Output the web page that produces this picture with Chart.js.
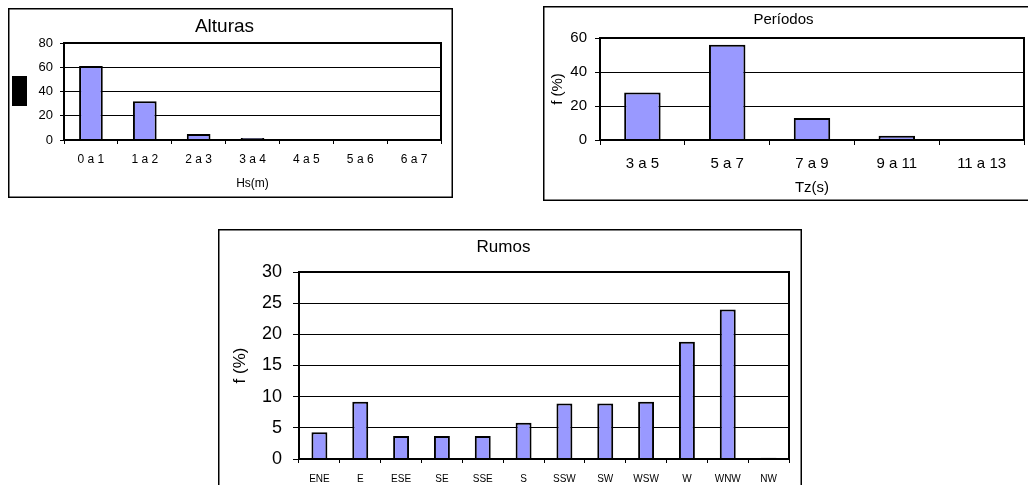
<!DOCTYPE html>
<html>
<head>
<meta charset="utf-8">
<script src="https://cdn.jsdelivr.net/npm/chart.js@4.4.1/dist/chart.umd.min.js"></script>
<style>
  html, body { margin: 0; padding: 0; background: #fff; overflow: hidden; width: 1028px; height: 485px; }
  canvas { position: absolute; }
</style>
</head>
<body>
<canvas id="alturas"></canvas>
<canvas id="periodos"></canvas>
<canvas id="rumos"></canvas>
<script>
// Wave height classes (m) and frequency (%)
const alturasLabels = ['0 a 1', '1 a 2', '2 a 3', '3 a 4', '4 a 5', '5 a 6', '6 a 7'];
const alturasValues = [61, 32, 5, 1.6, 0, 0, 0];

// Zero-crossing period classes (s) and frequency (%)
const periodosLabels = ['3 a 5', '5 a 7', '7 a 9', '9 a 11', '11 a 13'];
const periodosValues = [28, 56, 13, 2.5, 0];

// Wave direction sectors and frequency (%)
const rumosLabels = ['ENE', 'E', 'ESE', 'SE', 'SSE', 'S', 'SSW', 'SW', 'WSW', 'W', 'WNW', 'NW'];
const rumosValues = [4.3, 9.2, 3.7, 3.7, 3.7, 5.8, 8.9, 8.9, 9.2, 18.8, 24.0, 0.2];

const FONT = "'Liberation Sans', Arial, Helvetica, sans-serif";

function panel(id, geo, labels, values, o) {
  const cv = document.getElementById(id);
  cv.width = geo.w; cv.height = geo.h;
  cv.style.left = geo.x + 'px'; cv.style.top = geo.y + 'px';
  cv.style.width = geo.w + 'px'; cv.style.height = geo.h + 'px';

  const plotL = geo.plot[0] - geo.x;
  const plotT = geo.plot[1] - geo.y;
  const plotR = geo.plot[2] - geo.x;
  const plotB = geo.plot[3] - geo.y;
  const titleTop = (o.titleY - geo.y) - o.titleSize * 0.6;

  const framePlugin = {
    id: 'frame-' + id,
    beforeDraw(chart) {
      const ctx = chart.ctx;
      ctx.save();
      ctx.fillStyle = '#fff';
      ctx.fillRect(0, 0, geo.w, geo.h);
      ctx.strokeStyle = '#000';
      ctx.lineWidth = 1.5;
      ctx.strokeRect(0.75, 0.75, geo.w - 1.5, geo.h - 1.5);
      if (o.blockY) {
        ctx.fillStyle = '#000';
        ctx.fillRect(o.blockY[0], o.blockY[1], o.blockY[2], o.blockY[3]);
      }
      ctx.restore();
    },
    afterDraw(chart) {
      const a = chart.chartArea;
      const ctx = chart.ctx;
      ctx.save();
      ctx.strokeStyle = '#000';
      ctx.lineWidth = 2;
      ctx.strokeRect(a.left, a.top, a.right - a.left, a.bottom - a.top);
      ctx.restore();
    }
  };

  return new Chart(cv, {
    type: 'bar',
    data: {
      labels: labels,
      datasets: [{
        data: values,
        backgroundColor: '#9999ff',
        borderColor: '#000',
        borderWidth: 2,
        barPercentage: o.bar,
        categoryPercentage: 1
      }]
    },
    options: {
      responsive: false,
      animation: false,
      devicePixelRatio: 1,
      layout: { padding: { left: 0, top: 0, right: geo.w - plotR, bottom: 0 } },
      plugins: {
        legend: { display: false },
        tooltip: { enabled: false },
        title: {
          display: true,
          text: o.title,
          color: '#000',
          font: { family: FONT, size: o.titleSize, weight: 'normal', lineHeight: 1.2 },
          padding: { top: titleTop, bottom: plotT - titleTop - o.titleSize * 1.2 }
        }
      },
      scales: {
        x: {
          grid: { offset: true, drawOnChartArea: false, drawTicks: true, tickLength: o.xTickLen, color: '#000', lineWidth: 1 },
          border: { display: false },
          ticks: { color: '#000', font: { family: FONT, size: o.xFont }, padding: o.xPad, maxRotation: 0, autoSkip: false },
          title: {
            display: o.xTitle !== '', text: o.xTitle, color: '#000',
            font: { family: FONT, size: o.xTitleSize },
            padding: { top: 0, bottom: o.xTitlePad }
          },
          afterFit(s) { s.height = geo.h - plotB; }
        },
        y: {
          min: 0, max: o.yMax,
          ticks: { stepSize: o.yStep, color: '#000', font: { family: FONT, size: o.yFont }, padding: o.yPad },
          grid: { color: '#000', lineWidth: 1, drawTicks: true, tickLength: o.yTickLen },
          border: { display: false },
          title: {
            display: true, text: 'f (%)', color: '#000',
            font: { family: FONT, size: o.yTitleSize },
            padding: { top: o.yTitlePad, bottom: 0 }
          },
          afterFit(s) { s.width = plotL; }
        }
      }
    },
    plugins: [framePlugin]
  });
}

panel('alturas',
  { x: 8, y: 8, w: 445, h: 190, plot: [64, 43, 441, 140] },
  alturasLabels, alturasValues,
  { title: 'Alturas', titleSize: 19, titleY: 27, bar: 0.44,
    xFont: 12, xPad: 8, xTickLen: 4, xTitle: 'Hs(m)', xTitleSize: 12, xTitlePad: 7,
    yMax: 80, yStep: 20, yFont: 13, yPad: 7, yTickLen: 4,
    yTitleSize: 12, yTitlePad: 5, blockY: [4, 68, 15, 30] });

panel('periodos',
  { x: 543, y: 6, w: 500, h: 195, plot: [600, 38, 1024, 140] },
  periodosLabels, periodosValues,
  { title: 'Períodos', titleSize: 15, titleY: 20, bar: 0.43,
    xFont: 15, xPad: 10, xTickLen: 5, xTitle: 'Tz(s)', xTitleSize: 15, xTitlePad: 4,
    yMax: 60, yStep: 20, yFont: 15, yPad: 8, yTickLen: 5,
    yTitleSize: 15, yTitlePad: 6 });

panel('rumos',
  { x: 218, y: 229, w: 584, h: 271, plot: [299, 272, 789, 459] },
  rumosLabels, rumosValues,
  { title: 'Rumos', titleSize: 17, titleY: 247, bar: 0.39,
    xFont: 10, xPad: 10, xTickLen: 4, xTitle: '', xTitleSize: 10, xTitlePad: 0,
    yMax: 30, yStep: 5, yFont: 18, yPad: 11, yTickLen: 6,
    yTitleSize: 17, yTitlePad: 12 });
</script>
</body>
</html>
